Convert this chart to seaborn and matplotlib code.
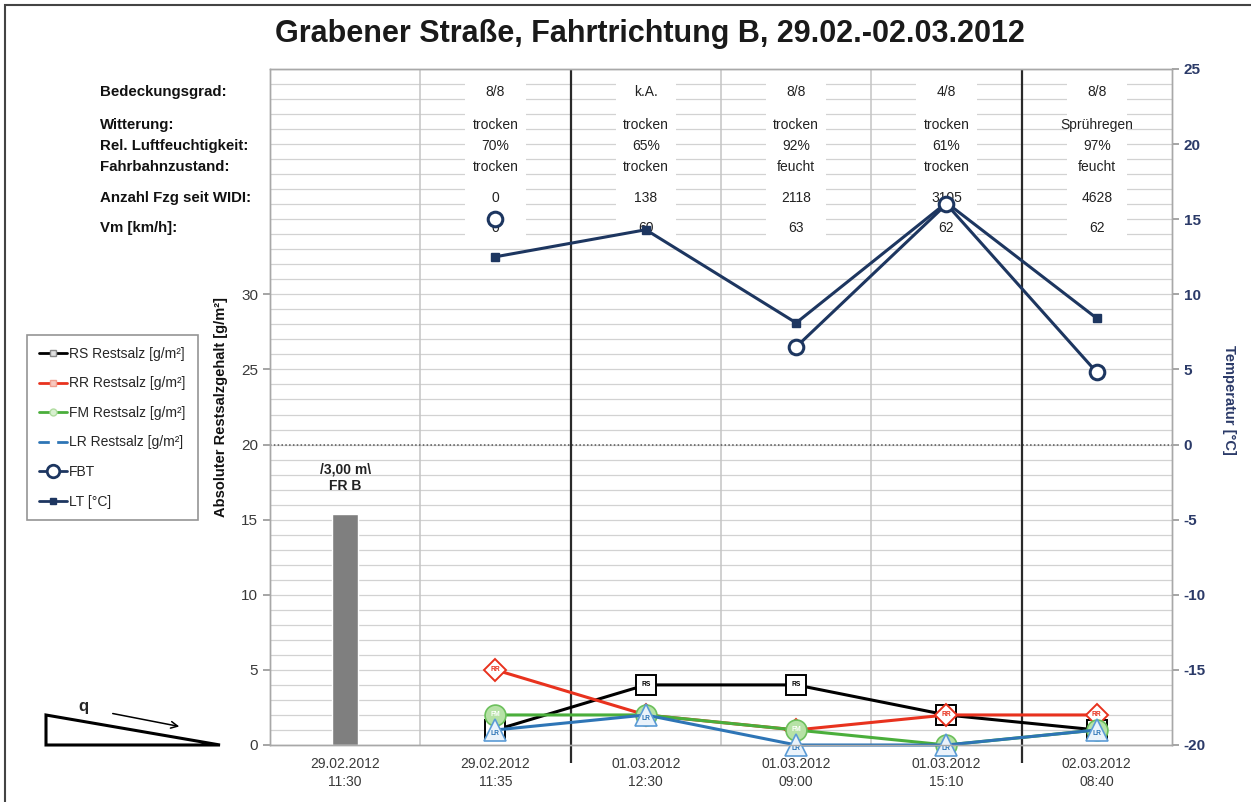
import numpy as np
import pandas as pd
import matplotlib
matplotlib.use("Agg")
import matplotlib.pyplot as plt
import matplotlib.transforms as mtransforms
from matplotlib.lines import Line2D
from matplotlib.patches import Polygon, Rectangle
import seaborn as sns

# ---------------- data ----------------
categories = ["29.02.2012\n11:30", "29.02.2012\n11:35", "01.03.2012\n12:30",
              "01.03.2012\n09:00", "01.03.2012\n15:10", "02.03.2012\n08:40"]
bar_category = [categories[0]]
bar_values = [15.4]
bar_label = "/3,00 m\\\nFR B"

rs = [np.nan, 1, 4, 4, 2, 1]
rr = [np.nan, 5, 2, 1, 2, 2]
fm = [np.nan, 2, 2, 1, 0, 1]
lr = [np.nan, 1, 2, 0, 0, 1]
fbt = [np.nan, 15.0, np.nan, 6.5, 16.0, 4.8]
lt = [np.nan, 12.5, 14.3, 8.1, 16.1, 8.4]

row_labels = ["Bedeckungsgrad:", "Witterung:", "Rel. Luftfeuchtigkeit:",
              "Fahrbahnzustand:", "Anzahl Fzg seit WIDI:", "Vm [km/h]:"]
bedeckung = ["8/8", "k.A.", "8/8", "4/8", "8/8"]
witterung = ["trocken", "trocken", "trocken", "trocken", "Sprühregen"]
feuchte = ["70%", "65%", "92%", "61%", "97%"]
fahrbahn = ["trocken", "trocken", "feucht", "trocken", "feucht"]
anzahl = ["0", "138", "2118", "3105", "4628"]
vm = ["0", "60", "63", "62", "62"]
table_rows = [bedeckung, witterung, feuchte, fahrbahn, anzahl, vm]
row_y = [43.45, 41.25, 39.9, 38.45, 36.4, 34.4]

title = "Grabener Straße, Fahrtrichtung B, 29.02.-02.03.2012"

# ---------------- style ----------------
sns.set_theme(style="white")
plt.rcParams["font.family"] = ["Liberation Sans", "DejaVu Sans"]
plt.rcParams["axes.unicode_minus"] = False

W, H = 1251, 802
fig = plt.figure(figsize=(W / 100, H / 100), dpi=100)
ax = fig.add_axes([270 / W, 1 - 745 / H, (1172 - 270) / W, (745 - 69) / H])
ax2 = ax.twinx()

navy = "#1d3660"
grey_txt = "#3a3a3a"

# bar
sns.barplot(x=bar_category, y=bar_values, order=categories, color="#7f7f7f",
            saturation=1, width=0.17, ax=ax, zorder=2)
ax.text(0, 17.8, bar_label, ha="center", va="center", fontsize=10,
        fontweight="bold", color="#222", zorder=4, linespacing=1.25)


def runs(vals):
    """Split series into contiguous non-NaN runs."""
    out, cur = [], []
    for i, v in enumerate(vals):
        if np.isnan(v):
            if cur:
                out.append(cur)
            cur = []
        else:
            cur.append((i, v))
    if cur:
        out.append(cur)
    return out


def draw_series(axis, vals, color, lw, marker, ms, mfc, mec, mew, z):
    for r in runs(vals):
        df = pd.DataFrame(r, columns=["x", "y"])
        sns.lineplot(data=df, x="x", y="y", ax=axis, color=color, lw=lw,
                     marker=marker, markersize=ms, markerfacecolor=mfc,
                     markeredgecolor=mec, markeredgewidth=mew, zorder=z,
                     legend=False, clip_on=False)


# salt series (left axis)
salt = [
    (rs, "RS", "black", "s", 15, "white", "black", "black", 1.4),
    (rr, "RR", "#e8321e", "D", 11, "white", "#e8321e", "#e8321e", 1.4),
    (fm, "FM", "#4aae3b", "o", 15, "#b6e2a6", "#6cc05c", "white", 1.2),
    (lr, "LR", "#2e75b6", "^", 16, "#eaf3fb", "#5b9bd5", "#2e75b6", 1.2),
]
for k, (vals, name, col, mk, ms, mfc, mec, tcol, mew) in enumerate(salt):
    draw_series(ax, vals, col, 2.2, mk, ms, mfc, mec, mew, 5 + k)
    for x, v in enumerate(vals):
        if not np.isnan(v):
            dy = -0.25 if mk == "^" else 0
            ax.text(x, v + dy, name, ha="center", va="center", fontsize=4.8,
                    fontweight="bold", color=tcol, zorder=5.5 + k,
                    clip_on=False)

# temperature series (right axis)
draw_series(ax2, lt, navy, 2.2, "s", 5.5, navy, navy, 1, 5)
draw_series(ax2, fbt, navy, 2.2, "o", 10.5, "white", navy, 2.2, 6)

# ---------------- axes ----------------
ax.set_xlim(-0.5, 5.5)
ax.set_ylim(0, 45)
ax2.set_ylim(-20, 25)
ax.set_yticks(np.arange(0, 31, 5))
ax.set_yticks(np.arange(0, 46, 1), minor=True)
ax2.set_yticks(np.arange(-20, 26, 5))
ax.set_axisbelow(True)
ax.grid(which="both", axis="y", color="#d2d2d2", lw=0.9, zorder=0.5)
ax.grid(which="both", axis="x", visible=False)
ax2.grid(False)
ax.axhline(20, color="#555", ls=(0, (1, 1.5)), lw=1.1, zorder=1.2)

# vertical separators
ax.vlines([0.5, 2.5, 3.5], 0, 45, color="#c4c4c4", lw=1.1, zorder=1.1)
ax.vlines([1.5, 4.5], -1.2, 45, color="#2a2a2a", lw=1.6, zorder=1.3,
          clip_on=False)

ax.set_xticks(range(len(categories)))
ax.set_xticklabels(categories, fontsize=10, color=grey_txt, linespacing=1.3)
ax.tick_params(axis="x", length=0, pad=9)
ax.tick_params(axis="y", which="major", length=5, color="#9a9a9a",
               labelsize=11, labelcolor=grey_txt, left=True, direction="out")
ax.tick_params(axis="y", which="minor", length=0)
ax2.tick_params(axis="y", length=5, color="#9a9a9a", labelsize=11,
                labelcolor="#2b3a68", right=True, direction="out")
for t in ax2.get_yticklabels():
    t.set_fontweight("bold")
ax.set_xlabel("")
ax.set_ylabel("Absoluter Restsalzgehalt [g/m²]", fontsize=10.5,
              fontweight="bold", color="#111")
ax.yaxis.set_label_coords(-0.047, 0.5)
ax2.set_ylabel("Temperatur [°C]", fontsize=10.5, fontweight="bold",
               color="#2b3a68", rotation=270, va="bottom")
ax2.yaxis.set_label_coords(1.055, 0.51)
for a in (ax, ax2):
    for s in a.spines.values():
        s.set_color("#a8a8a8")
        s.set_linewidth(1)

# ---------------- info table ----------------
blend = mtransforms.blended_transform_factory(fig.transFigure, ax.transData)
for lab, y in zip(row_labels, row_y):
    ax.text(100 / W, y, lab, transform=blend, ha="left", va="center",
            fontsize=10.8, fontweight="bold", color="#111", clip_on=False)
for i in range(1, 6):
    ax.add_patch(Rectangle((i - 0.2, 33.6), 0.4, 11.1, fc="white",
                           ec="none", zorder=1.0))
for vals, y in zip(table_rows, row_y):
    for i, v in enumerate(vals):
        ax.text(i + 1, y, v, ha="center", va="center", fontsize=10,
                color="#222", zorder=3)

# ---------------- title ----------------
fig.text(650 / W, 1 - 34 / H, title, ha="center", va="center", fontsize=22,
         fontweight="bold", color="#1a1a1a")

# ---------------- legend ----------------
handles = [
    Line2D([0], [0], color="black", lw=2, marker="s", ms=4.5,
           mfc="#e0e0e0", mec="#888"),
    Line2D([0], [0], color="#e8321e", lw=2, marker="s", ms=4.5,
           mfc="#f7c9c0", mec="#f0a090"),
    Line2D([0], [0], color="#4aae3b", lw=2, marker="o", ms=5,
           mfc="#d8f0d0", mec="#b0dca0"),
    Line2D([0], [0], color="#2e75b6", lw=2, marker="s", ms=4.5,
           mfc="white", mec="white"),
    Line2D([0], [0], color=navy, lw=2, marker="o", ms=9, mfc="white",
           mec=navy, mew=2),
    Line2D([0], [0], color=navy, lw=2, marker="s", ms=4.5, mfc=navy,
           mec=navy),
]
labels = ["RS Restsalz [g/m²]", "RR Restsalz [g/m²]", "FM Restsalz [g/m²]",
          "LR Restsalz [g/m²]", "FBT", "LT [°C]"]
leg = fig.legend(handles, labels, loc="upper left",
                 bbox_to_anchor=(27 / W, 1 - 335 / H),
                 bbox_transform=fig.transFigure, frameon=True, fancybox=False,
                 edgecolor="#7a7a7a", handlelength=2.0,
                 handletextpad=0.2, labelspacing=1.12, borderpad=0.85,
                 borderaxespad=0,
                 prop={"family": ["Liberation Sans Narrow", "Liberation Sans"],
                       "size": 10})
leg.get_frame().set_linewidth(1.2)

# ---------------- slope sketch ----------------
pts = [(46, 715), (46, 745), (220, 745)]
fig.add_artist(Polygon([(x / W, 1 - y / H) for x, y in pts], closed=True,
                       fill=False, ec="black", lw=2.2,
                       transform=fig.transFigure))
fig.text(83 / W, 1 - 706 / H, "q", ha="center", va="center", fontsize=12,
         fontweight="bold")
ax.annotate("", xy=(182 / W, 1 - 727 / H), xytext=(110 / W, 1 - 713 / H),
            xycoords="figure fraction", textcoords="figure fraction",
            arrowprops=dict(arrowstyle="->", lw=1.1, color="black"))

# outer frame
fig.add_artist(Rectangle((5 / W, -0.05), 1.2, 1.05 - 5 / H, fill=False,
                         ec="#444", lw=1.5, transform=fig.transFigure))

fig.savefig("out.png", dpi=100)
